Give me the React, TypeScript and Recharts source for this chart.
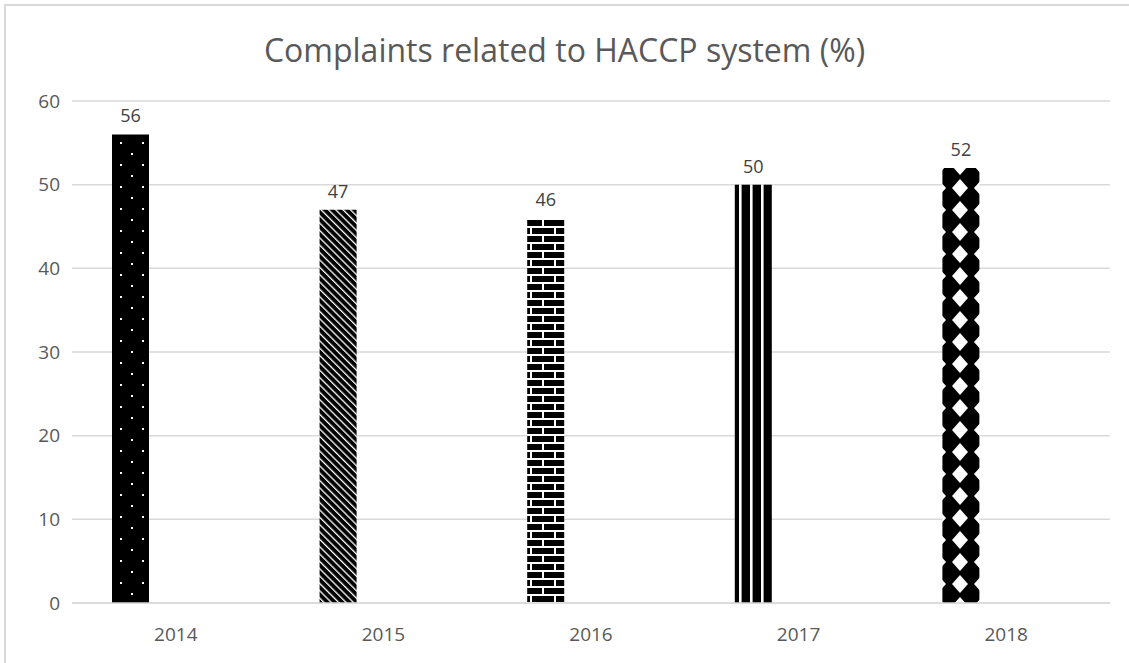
import { Bar, BarChart, CartesianGrid, Cell, LabelList, XAxis, YAxis } from 'recharts'

const years = ['2014', '2015', '2016', '2017', '2018']
const complaints = [56, 47, 46, 50, 52]
const yTicks = [0, 10, 20, 30, 40, 50, 60]

const patternIds = ['dots', 'diag', 'brick', 'vstripe', 'diamond']

const data = years.map((year, i) => ({
  year,
  complaints: complaints[i],
  blankA: null,
  blankB: null,
}))

const gray = '#595959'
const font = '"Open Sans", "Noto Sans", sans-serif'

function Patterns() {
  return (
    <defs>
      <pattern id="dots" width={22} height={22} patternUnits="userSpaceOnUse" x={-1} y={-1}>
        <rect width={22} height={22} fill="#000" />
        <rect x={0} y={0} width={2} height={2} fill="#fff" />
        <rect x={11} y={11} width={2} height={2} fill="#fff" />
      </pattern>
      <pattern
        id="diag"
        width={5.2}
        height={5.2}
        patternUnits="userSpaceOnUse"
        patternTransform="rotate(-45)"
      >
        <rect width={5.2} height={5.2} fill="#000" />
        <rect x={0} y={0} width={1.3} height={5.2} fill="#fff" />
      </pattern>
      <pattern id="brick" width={24} height={16} patternUnits="userSpaceOnUse" x={2} y={2}>
        <rect width={24} height={16} fill="#000" />
        <rect x={0} y={0} width={24} height={2} fill="#fff" />
        <rect x={0} y={8} width={24} height={2} fill="#fff" />
        <rect x={0} y={0} width={2} height={8} fill="#fff" />
        <rect x={12} y={8} width={2} height={8} fill="#fff" />
      </pattern>
      <pattern id="vstripe" width={11} height={11} patternUnits="userSpaceOnUse">
        <rect width={11} height={11} fill="#000" />
        <rect x={2} y={0} width={2.6} height={11} fill="#fff" />
      </pattern>
      <pattern id="diamond" width={22} height={22} patternUnits="userSpaceOnUse" x={3} y={1}>
        <rect width={22} height={22} fill="#000" />
        <polygon points="11,2 19,11 11,20 3,11" fill="#fff" />
      </pattern>
    </defs>
  )
}

export default function App() {
  return (
    <div
      style={{
        position: 'absolute',
        left: 0,
        top: 0,
        width: 1129,
        height: 663,
        overflow: 'hidden',
        background: '#fff',
      }}
    >
      <div
        style={{
          position: 'absolute',
          left: 4,
          top: 4,
          width: 1200,
          height: 800,
          borderLeft: '2px solid #d9d9d9',
          borderTop: '2px solid #d9d9d9',
        }}
      />
      <div
        style={{
          position: 'absolute',
          left: 0,
          top: 29,
          width: 1129,
          textAlign: 'center',
          fontFamily: font,
          fontSize: 32,
          color: gray,
          lineHeight: '42px',
        }}
      >
        Complaints related to HACCP system (%)
      </div>
      <div style={{ position: 'absolute', left: 0, top: 0 }}>
        <BarChart
          width={1129}
          height={663}
          data={data}
          margin={{ top: 101, right: 19, bottom: 30, left: 0 }}
          barSize={37}
          barGap={8.3}
        >
          <Patterns />
          <CartesianGrid vertical={false} stroke="#d9d9d9" strokeWidth={1.5} />
          <XAxis
            dataKey="year"
            height={30}
            tickLine={false}
            tickSize={0}
            tickMargin={25}
            axisLine={{ stroke: '#d9d9d9', strokeWidth: 1.5 }}
            tick={{ fill: gray, fontSize: 19, fontFamily: font }}
          />
          <YAxis
            width={72}
            domain={[0, 60]}
            ticks={yTicks}
            axisLine={false}
            tickLine={false}
            tickSize={0}
            tickMargin={12}
            tick={{ fill: gray, fontSize: 19, fontFamily: font }}
          />
          <Bar dataKey="complaints" isAnimationActive={false}>
            {data.map((d, i) => (
              <Cell key={d.year} fill={`url(#${patternIds[i]})`} />
            ))}
            <LabelList
              dataKey="complaints"
              position="top"
              offset={12}
              fill="#404040"
              fontSize={18}
              fontFamily={font}
            />
          </Bar>
          <Bar dataKey="blankA" isAnimationActive={false} fill="none" />
          <Bar dataKey="blankB" isAnimationActive={false} fill="none" />
        </BarChart>
      </div>
    </div>
  )
}
